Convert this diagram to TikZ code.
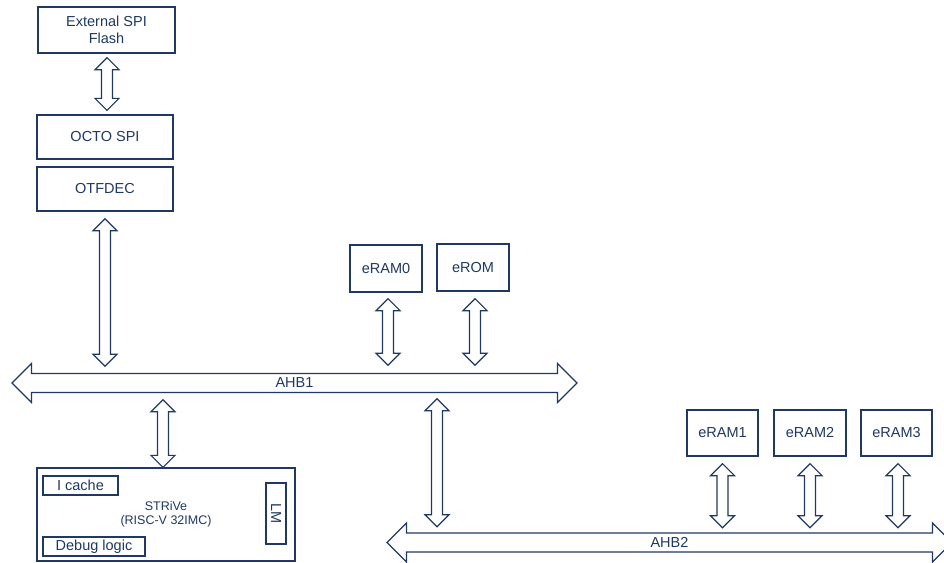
\documentclass[tikz,border=0pt]{standalone}
\usepackage{fontspec}
\setmainfont{Liberation Sans}
\usetikzlibrary{calc}
\definecolor{navy}{RGB}{31,56,100}
\tikzset{
  lbl/.style={text=navy, font=\fontsize{14.5}{17}\selectfont, align=center, inner sep=0pt},
  box/.style={lbl, draw=navy, line width=1.3pt, fill=white},
  smallbox/.style={box, line width=1.2pt},
  % vertical two-headed block arrow: x taken from the start, start above target
  vfat/.style={draw=navy, line width=1.2pt, line join=miter, fill=white,
    to path={let \p1=(\tikztostart), \p2=(\tikztotarget) in
      (\x1,\y1) -- (\x1+12pt,\y1-12pt) -- (\x1+5.5pt,\y1-12pt)
      -- (\x1+5.5pt,\y2+12pt) -- (\x1+12pt,\y2+12pt) -- (\x1,\y2)
      -- (\x1-12pt,\y2+12pt) -- (\x1-5.5pt,\y2+12pt)
      -- (\x1-5.5pt,\y1-12pt) -- (\x1-12pt,\y1-12pt) -- cycle}},
  % horizontal two-headed bus arrow from west tip to east tip
  hfat/.style={draw=navy, line width=1.3pt, line join=miter,
    to path={let \p1=(\tikztostart), \p2=(\tikztotarget) in
      (\x1,\y1) -- (\x1+19.5pt,\y1+19.5pt) -- (\x1+19.5pt,\y1+9.5pt)
      -- (\x2-19.5pt,\y1+9.5pt) -- (\x2-19.5pt,\y1+19.5pt) -- (\x2,\y1)
      -- (\x2-19.5pt,\y1-19.5pt) -- (\x2-19.5pt,\y1-9.5pt)
      -- (\x1+19.5pt,\y1-9.5pt) -- (\x1+19.5pt,\y1-19.5pt) -- cycle}},
  bus/.style={lbl, minimum width=565, minimum height=19},
}
\begin{document}
\begin{tikzpicture}[x=1pt, y=-1pt]
\useasboundingbox (0,0) rectangle (944,562);
\clip (0,0) rectangle (944,562);

% memory and flash path
\node[box, minimum width=137, minimum height=46] (flash) at (106.5,30) {External SPI\\Flash};
\node[box, minimum width=136, minimum height=44] (octo) at (105,137) {OCTO SPI};
\node[box, minimum width=136, minimum height=44] (otfdec) at (105,189) {OTFDEC};

\node[box, minimum width=72, minimum height=47] (eram0) at (386,268.5) {eRAM0};
\node[box, minimum width=72, minimum height=47] (erom) at (473,267.5) {eROM};

\node[box, minimum width=71, minimum height=46] (eram1) at (722.5,433) {eRAM1};
\node[box, minimum width=72, minimum height=46] (eram2) at (810,433) {eRAM2};
\node[box, minimum width=71, minimum height=46] (eram3) at (896.5,433) {eRAM3};

% core
\node[box, minimum width=258, minimum height=93, font=\fontsize{12.5}{14.5}\selectfont] (strive) at (166,514.5) {STRiVe\\(RISC-V 32IMC)};
\node[smallbox, minimum width=75, minimum height=19] (icache) at (80.5,485.5) {I cache};
\node[smallbox, minimum width=102, minimum height=19] (debug) at (94,546.5) {Debug logic};
\node[smallbox, minimum width=20, minimum height=61] (lm) at (276,513.5) {};
\node[lbl, rotate=-90] (lmtext) at (lm.center) {LM};

% buses
\draw[hfat] (12,383) coordinate (ahb1w) to (577,383) coordinate (ahb1e);
\node[bus] (ahb1) at (294.5,383) {AHB1};
\draw[hfat] (387,542.5) coordinate (ahb2w) to (952,542.5) coordinate (ahb2e);
\node[bus] (ahb2) at (669.5,542.5) {AHB2};

% connections
\draw[vfat] ([xshift=0.5,yshift=-4]flash.south) to ([yshift=4]octo.north);
\draw[vfat] ([yshift=-7]otfdec.south) to ([yshift=7]ahb1.north);
\draw[vfat] ([xshift=2,yshift=-6]eram0.south) to ([yshift=8]ahb1.north);
\draw[vfat] ([xshift=2,yshift=-7]erom.south) to ([yshift=8]ahb1.north);
\draw[vfat] ([xshift=-3,yshift=-7]strive.north |- ahb1.south) to (strive.north);
\draw[vfat] ([xshift=142.5,yshift=-6]ahb1.south) to ([yshift=6]ahb2.north);
\draw[vfat] ([yshift=-7]eram1.south) to ([yshift=5]ahb2.north);
\draw[vfat] ([yshift=-7]eram2.south) to ([yshift=5]ahb2.north);
\draw[vfat] ([xshift=1.5,yshift=-7]eram3.south) to ([yshift=5]ahb2.north);
\end{tikzpicture}
\end{document}
